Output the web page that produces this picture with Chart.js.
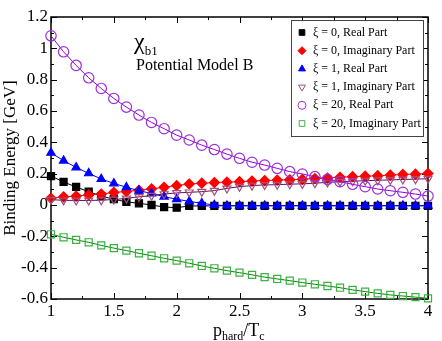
<!DOCTYPE html>
<html>
<head>
<meta charset="utf-8">
<title>chi_b1 binding energy</title>
<script src="https://cdn.jsdelivr.net/npm/chart.js@4.4.1/dist/chart.umd.min.js"></script>
<style>
  html, body { margin: 0; padding: 0; background: #fff; }
  #wrap { width: 442px; height: 341px; }
</style>
</head>
<body>
<div id="wrap"><canvas id="chart" width="442" height="341"></canvas></div>
<script>
// p_hard / T_c sample points
const pHard = [1.0, 1.1, 1.2, 1.3, 1.4, 1.5, 1.6, 1.7, 1.8, 1.9, 2.0,
               2.1, 2.2, 2.3, 2.4, 2.5, 2.6, 2.7, 2.8, 2.9, 3.0,
               3.1, 3.2, 3.3, 3.4, 3.5, 3.6, 3.7, 3.8, 3.9, 4.0];

// binding energies [GeV]
const xi0Real = [0.185, 0.147, 0.115, 0.085, 0.057, 0.037, 0.020, 0.011, 0.000, -0.013, -0.017,
                 -0.006, -0.006, -0.005, -0.005, -0.005, -0.005, -0.005, -0.005, -0.005, -0.005,
                 -0.005, -0.005, -0.005, -0.005, -0.005, -0.005, -0.005, -0.005, -0.005, -0.005];
const xi0Imag = [0.043, 0.052, 0.057, 0.064, 0.070, 0.080, 0.086, 0.094, 0.103, 0.113, 0.124,
                 0.134, 0.139, 0.143, 0.146, 0.149, 0.153, 0.156, 0.159, 0.161, 0.164,
                 0.169, 0.172, 0.177, 0.181, 0.184, 0.187, 0.191, 0.195, 0.197, 0.201];
const xi1Real = [0.333, 0.283, 0.240, 0.202, 0.166, 0.138, 0.113, 0.091, 0.074, 0.053, 0.037,
                 0.023, 0.011, 0.000, -0.004, -0.004, -0.004, -0.004, -0.004, -0.004, -0.004,
                 -0.004, -0.004, -0.004, -0.004, -0.004, -0.004, -0.004, -0.004, -0.004, -0.004];
const xi1Imag = [0.034, 0.030, 0.029, 0.029, 0.031, 0.035, 0.042, 0.052, 0.060, 0.070, 0.077,
                 0.081, 0.085, 0.092, 0.106, 0.117, 0.124, 0.128, 0.130, 0.133, 0.135,
                 0.139, 0.145, 0.148, 0.152, 0.155, 0.158, 0.160, 0.163, 0.165, 0.168];
const xi20Real = [1.080, 0.978, 0.891, 0.812, 0.744, 0.680, 0.625, 0.574, 0.527, 0.487, 0.446,
                  0.415, 0.382, 0.354, 0.325, 0.298, 0.273, 0.255, 0.234, 0.213, 0.198,
                  0.181, 0.164, 0.149, 0.132, 0.117, 0.102, 0.091, 0.081, 0.070, 0.057];
const xi20Imag = [-0.187, -0.206, -0.223, -0.238, -0.258, -0.275, -0.291, -0.308, -0.324, -0.340, -0.355,
                  -0.372, -0.389, -0.404, -0.419, -0.432, -0.446, -0.460, -0.472, -0.483, -0.495,
                  -0.506, -0.517, -0.528, -0.542, -0.553, -0.564, -0.574, -0.581, -0.588, -0.596];

const seriesLabels = ["\u03be = 0, Real Part", "\u03be = 0, Imaginary Part",
                      "\u03be = 1, Real Part", "\u03be = 1, Imaginary Part",
                      "\u03be = 20, Real Part", "\u03be = 20, Imaginary Part"];

const xMajorTicks = [1, 1.5, 2, 2.5, 3, 3.5, 4];
const xMinorTicks = [1.25, 1.75, 2.25, 2.75, 3.25, 3.75];
const yMajorTicks = [-0.6, -0.4, -0.2, 0, 0.2, 0.4, 0.6, 0.8, 1.0, 1.2];
const yMinorTicks = [-0.5, -0.3, -0.1, 0.1, 0.3, 0.5, 0.7, 0.9, 1.1];

const SERIF = "'Liberation Serif', 'DejaVu Serif', serif";

function toPoints(ys) {
    return pHard.map((x, i) => ({ x: x, y: ys[i] }));
}

function makeSet(label, ys, line, mark, fill, style, rotation, radius) {
    return {
        label: label,
        data: toPoints(ys),
        borderColor: line,
        borderWidth: 1,
        pointStyle: style,
        pointRotation: rotation,
        pointRadius: radius,
        pointBorderColor: mark,
        pointBackgroundColor: fill,
        pointBorderWidth: 1.2,
        tension: 0,
        clip: false
    };
}

// axis box with inward ticks on all four sides
const axisFrame = {
    id: "axisFrame",
    beforeDatasetsDraw(chart) {
        const { ctx, chartArea: a, scales: { x, y } } = chart;
        ctx.save();
        ctx.strokeStyle = "#000";
        ctx.lineWidth = 1;
        ctx.beginPath();
        const tick = (px, len, vertical) => {
            if (vertical) {
                ctx.moveTo(px, a.bottom); ctx.lineTo(px, a.bottom - len);
                ctx.moveTo(px, a.top); ctx.lineTo(px, a.top + len);
            } else {
                ctx.moveTo(a.left, px); ctx.lineTo(a.left + len, px);
                ctx.moveTo(a.right, px); ctx.lineTo(a.right - len, px);
            }
        };
        xMajorTicks.forEach(v => tick(Math.round(x.getPixelForValue(v)) + 0.5, 6, true));
        xMinorTicks.forEach(v => tick(Math.round(x.getPixelForValue(v)) + 0.5, 3, true));
        yMajorTicks.forEach(v => tick(Math.round(y.getPixelForValue(v)) + 0.5, 6, false));
        yMinorTicks.forEach(v => tick(Math.round(y.getPixelForValue(v)) + 0.5, 3, false));
        ctx.stroke();
        ctx.lineWidth = 1.5;
        ctx.strokeRect(a.left, a.top, a.right - a.left, a.bottom - a.top);
        ctx.restore();
    }
};

// axis titles and the chi_b1 annotation (they need sub-scripts)
const labelsPlugin = {
    id: "labelsPlugin",
    afterDraw(chart) {
        const { ctx, chartArea: a } = chart;
        ctx.save();
        ctx.fillStyle = "#000";
        ctx.textBaseline = "alphabetic";

        // y title
        ctx.save();
        ctx.translate(15, (a.top + a.bottom) / 2);
        ctx.rotate(-Math.PI / 2);
        ctx.textAlign = "center";
        ctx.font = "17px " + SERIF;
        ctx.fillText("Binding Energy [GeV]", 0, 0);
        ctx.restore();

        // x title: p_hard / T_c
        ctx.textAlign = "left";
        let cx = 213;
        const part = (txt, size, base) => {
            ctx.font = size + "px " + SERIF;
            ctx.fillText(txt, cx, base);
            cx += ctx.measureText(txt).width;
        };
        part("p", 18, 336);
        part("hard", 12, 340);
        part("/T", 18, 336);
        part("c", 12, 340);

        // chi_b1 and model name
        cx = 134;
        part("\u03c7", 24, 49);
        part("b1", 13, 55);
        ctx.font = "16px " + SERIF;
        ctx.fillText("Potential Model B", 136, 70);
        ctx.restore();
    }
};

// boxed legend inside the plot, symbols only
const legendBox = {
    id: "legendBox",
    afterDraw(chart) {
        const ctx = chart.ctx;
        ctx.save();
        ctx.fillStyle = "#fff";
        ctx.fillRect(291.5, 20.5, 132, 116);
        ctx.strokeStyle = "#444";
        ctx.lineWidth = 1;
        ctx.strokeRect(291.5, 20.5, 132, 116);
        ctx.font = "12px " + SERIF;
        ctx.textBaseline = "middle";
        ctx.textAlign = "left";
        chart.data.datasets.forEach((ds, i) => {
            const cy = 32.5 + i * 18.2;
            ctx.fillStyle = ds.pointBackgroundColor;
            ctx.strokeStyle = ds.pointBorderColor;
            ctx.lineWidth = 1;
            Chart.helpers.drawPoint(ctx, {
                pointStyle: ds.pointStyle,
                rotation: ds.pointRotation,
                radius: 4,
                borderWidth: 1
            }, 302, cy);
            ctx.fillStyle = "#000";
            ctx.fillText(ds.label, 313, cy);
        });
        ctx.restore();
    }
};

const datasets = [
    makeSet(seriesLabels[0], xi0Real, "#000000", "#000000", "#000000", "rect", 0, 5),
    makeSet(seriesLabels[1], xi0Imag, "#ff0000", "#ff0000", "#ff0000", "rectRot", 0, 5),
    makeSet(seriesLabels[2], xi1Real, "#0000ff", "#0000ff", "#0000ff", "triangle", 0, 4.8),
    makeSet(seriesLabels[3], xi1Imag, "#6b0a4f", "#a0507e", "rgba(0,0,0,0)", "triangle", 180, 4.6),
    makeSet(seriesLabels[4], xi20Real, "#9400d3", "#9a30dc", "rgba(0,0,0,0)", "circle", 0, 5.2),
    makeSet(seriesLabels[5], xi20Imag, "#008b00", "#3cb043", "rgba(0,0,0,0)", "rect", 0, 5)
];
// later series drawn on top, like the original
datasets.forEach((d, i) => { d.order = datasets.length - i; });

new Chart(document.getElementById("chart"), {
    type: "line",
    data: { datasets: datasets },
    options: {
        responsive: false,
        animation: false,
        layout: { padding: { top: 17, right: 14, left: 0, bottom: 0 } },
        plugins: { legend: { display: false }, tooltip: { enabled: false } },
        scales: {
            x: {
                type: "linear",
                min: 1,
                max: 4,
                grid: { display: false, drawTicks: false },
                border: { display: false },
                afterFit: s => { s.height = 42; },
                afterBuildTicks: s => { s.ticks = xMajorTicks.map(v => ({ value: v })); },
                ticks: {
                    padding: 2,
                    color: "#000",
                    font: { family: SERIF, size: 17 },
                    maxRotation: 0,
                    autoSkip: false,
                    callback: v => String(+v.toFixed(2))
                }
            },
            y: {
                type: "linear",
                min: -0.6,
                max: 1.2,
                grid: { display: false, drawTicks: false },
                border: { display: false },
                afterFit: s => { s.width = 51; },
                afterBuildTicks: s => { s.ticks = yMajorTicks.map(v => ({ value: v })); },
                ticks: {
                    padding: 3,
                    color: "#000",
                    font: { family: SERIF, size: 17 },
                    autoSkip: false,
                    callback: v => String(+v.toFixed(1))
                }
            }
        }
    },
    plugins: [axisFrame, labelsPlugin, legendBox]
});
</script>
</body>
</html>
